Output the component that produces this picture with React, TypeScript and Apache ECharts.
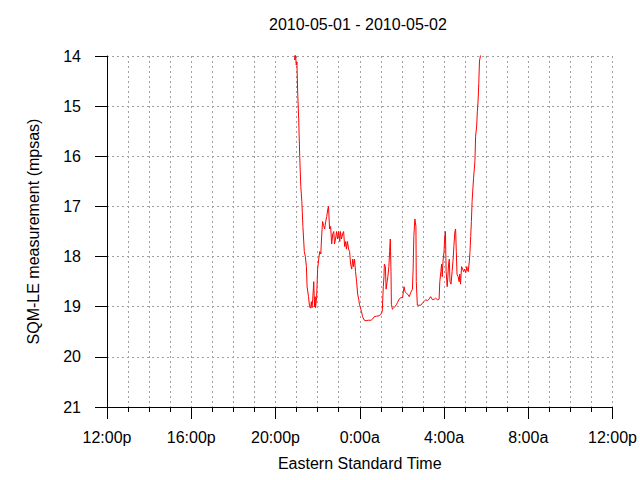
import React, { useEffect, useRef } from "react";
import * as echarts from "echarts";

// Minutes after 12:00 noon on 2010-05-01
const minutes = [
  530, 535, 537, 539, 541, 543, 546, 549, 552, 555, 558, 562, 565, 568, 570, 574, 577, 580, 582, 584,
  586, 589, 591, 593, 594, 597, 600, 603, 606, 609, 611, 614, 617, 620, 623, 626, 629, 631, 634, 637,
  640, 643, 646, 648, 651, 654, 657, 660, 663, 665, 668, 671, 674, 677, 680, 682, 685, 688, 691, 694,
  697, 700, 702, 705, 708, 711, 714, 717, 719, 723, 725, 728, 733, 738, 744, 752, 756, 761, 767, 775,
  780, 784, 787, 789, 790, 793, 795, 798, 800, 803, 805, 807, 809, 810, 813, 816, 820, 825, 827, 832,
  837, 842, 846, 849, 852, 856, 861, 865, 870, 872, 874, 877, 880, 881, 884, 894, 898, 903, 908, 913,
  917, 922, 927, 932, 936, 941, 946, 948, 951, 953, 955, 957, 960, 962, 964, 966, 969, 971, 973, 975,
  977, 980, 983, 986, 988, 991, 993, 995, 997, 1000, 1003, 1005, 1007, 1010, 1013, 1016, 1019, 1022, 1025, 1026,
  1029, 1032, 1034, 1036, 1038, 1040, 1044, 1048, 1050, 1053, 1055, 1057, 1059, 1061, 1065, 1068,
];

// SQM-LE readings (mpsas)
const sqm = [
  12.5, 14.08, 13.97, 14.18, 14.12, 14.7, 15.25, 16.0, 16.6, 16.9, 17.4, 17.9, 18.0, 18.2, 18.6, 18.8, 19.0, 19.03, 18.9, 19.02,
  18.85, 18.5, 19.0, 18.8, 19.02, 18.82, 18.25, 18.05, 17.9, 17.95, 17.65, 17.3, 17.38, 17.45, 17.3, 17.2, 17.05, 17.0, 17.45, 17.4,
  17.75, 17.55, 17.5, 17.75, 17.65, 17.5, 17.65, 17.5, 17.7, 17.5, 17.65, 17.55, 17.5, 17.8, 17.7, 17.85, 17.7, 17.85, 17.9, 18.15,
  18.25, 18.05, 18.2, 18.05, 18.3, 18.5, 18.75, 18.85, 18.95, 19.05, 19.1, 19.2, 19.27, 19.28, 19.27, 19.27, 19.25, 19.2, 19.19, 19.18,
  19.15, 19.1, 18.6, 18.4, 18.15, 18.2, 18.65, 18.5, 18.4, 18.2, 17.9, 17.65, 18.3, 18.95, 19.05, 19.03, 19.0, 18.95, 18.92, 18.85,
  18.82, 18.82, 18.6, 18.7, 18.72, 18.75, 18.8, 18.72, 18.65, 18.25, 17.6, 17.25, 17.4, 18.5, 18.97, 18.97, 18.93, 18.9, 18.86, 18.88,
  18.85, 18.8, 18.86, 18.85, 18.83, 18.86, 18.85, 18.5, 18.3, 18.15, 18.4, 18.1, 17.9, 17.6, 17.5, 18.3, 18.6, 18.4, 18.15, 18.05,
  18.5, 18.55, 18.3, 18.05, 17.8, 17.5, 17.45, 17.9, 18.35, 18.4, 18.5, 18.35, 18.55, 18.2, 18.25, 18.3, 18.25, 18.32, 18.2, 18.25,
  18.3, 18.1, 17.9, 17.6, 17.3, 16.9, 16.45, 16.1, 15.6, 15.4, 15.1, 14.9, 14.55, 14.1, 13.95, 12.5,
];

const titleText = "2010-05-01 - 2010-05-02";
const xName = "Eastern Standard Time";
const yName = "SQM-LE measurement (mpsas)";

const FONT = "'Liberation Sans', Arial, sans-serif";
const GRID_COLOR = "#a0a0a0";
const DASH = [2, 3];

function fmtTime(m: number): string {
  const h = (12 + Math.round(m / 60)) % 24;
  return `${h}:00${h >= 12 ? "p" : "a"}`;
}

export default function App() {
  const ref = useRef<HTMLDivElement>(null);
  useEffect(() => {
    if (!ref.current) return;
    const chart = echarts.init(ref.current, null, { renderer: "svg" });
    const data = minutes.map((m, i) => [m, sqm[i]]);
    chart.setOption({
      animation: false,
      backgroundColor: "#fff",
      title: {
        text: titleText,
        left: 269,
        top: 16,
        padding: 0,
        textStyle: { fontFamily: FONT, fontSize: 16, fontWeight: "normal", color: "#000" },
      },
      grid: { left: 107, right: 26, top: 56, bottom: 73, containLabel: false },
      xAxis: {
        type: "value",
        min: 0,
        max: 1440,
        interval: 240,
        name: xName,
        nameLocation: "middle",
        nameGap: 48,
        nameTextStyle: { fontFamily: FONT, fontSize: 16, color: "#000" },
        axisLine: { show: true, onZero: false, lineStyle: { color: "#000", width: 1 } },
        axisTick: { show: true, length: 12, lineStyle: { color: "#000" } },
        minorTick: { show: true, splitNumber: 4, length: 5, lineStyle: { color: "#000" } },
        axisLabel: {
          fontFamily: FONT,
          fontSize: 16,
          color: "#000",
          margin: 22,
          formatter: (v: number) => fmtTime(v),
        },
        splitLine: { show: true, lineStyle: { color: GRID_COLOR, type: DASH, width: 1 } },
        minorSplitLine: { show: true, lineStyle: { color: GRID_COLOR, type: DASH, width: 1 } },
      },
      yAxis: {
        type: "value",
        inverse: true,
        min: 14,
        max: 21,
        interval: 1,
        name: yName,
        nameLocation: "middle",
        nameGap: 66,
        nameTextStyle: { fontFamily: FONT, fontSize: 16, color: "#000" },
        axisLine: { show: true, lineStyle: { color: "#000", width: 1 } },
        axisTick: { show: true, length: 12, lineStyle: { color: "#000" } },
        axisLabel: { fontFamily: FONT, fontSize: 16, color: "#000", margin: 26 },
        splitLine: { show: true, lineStyle: { color: GRID_COLOR, type: DASH, width: 1 } },
      },
      series: [
        {
          type: "line",
          data,
          showSymbol: false,
          symbol: "none",
          clip: true,
          lineStyle: { color: "#ff0000", width: 1 },
        },
      ],
    });
    return () => chart.dispose();
  }, []);
  return (
    <div
      ref={ref}
      style={{ position: "absolute", left: 0, top: 0, width: 640, height: 480 }}
    />
  );
}
